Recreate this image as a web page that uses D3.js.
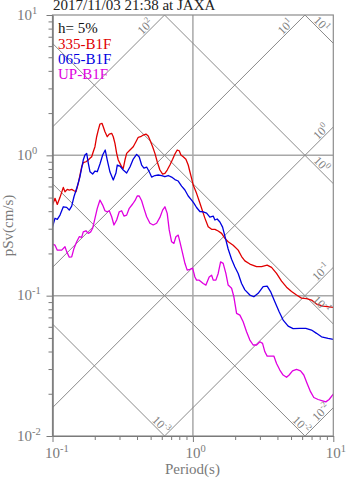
<!DOCTYPE html>
<html>
<head>
<meta charset="utf-8">
<script src="https://cdn.jsdelivr.net/npm/d3@7"></script>
<style>
  html, body { margin: 0; padding: 0; background: #fff; }
  svg { display: block; }
</style>
</head>
<body>
<svg id="chart" width="347" height="478"></svg>
<script>
// ---- data ----
const titleText = "2017/11/03 21:38 at JAXA";
const dampingText = "h= 5%";
const seriesNames = ["335-B1F", "065-B1F", "UP-B1F"];
const seriesColors = ["#e00000", "#0000e0", "#e000e0"];

// pseudo velocity response (cm/s) vs period (s)
const period335 = [0.100,0.1042,0.1082,0.1131,0.1194,0.1227,0.1274,0.1317,0.1370,0.1422,0.1470,0.1526,0.1569,0.1614,0.1656,0.1731,0.1798,0.1849,0.1901,0.1951,0.2006,0.2063,0.2118,0.2178,0.2251,0.2299,0.2364,0.2455,0.2537,0.2639,0.2709,0.2785,0.2864,0.2940,0.3023,0.3108,0.3191,0.3281,0.3374,0.3562,0.3760,0.3929,0.4080,0.4244,0.4429,0.4629,0.4807,0.4943,0.5166,0.5364,0.5570,0.5822,0.6085,0.6319,0.6562,0.6859,0.7171,0.7446,0.7732,0.7989,0.8215,0.8531,0.8917,0.9261,0.9520,0.9788,1.005,1.062,1.121,1.217,1.285,1.359,1.435,1.514,1.601,1.690,1.783,1.936,2.101,2.222,2.345,2.545,2.840,3.083,3.380,3.632,3.942,4.279,4.645,5.041,5.472,5.939,6.446,6.996,7.594,8.462,10.0];
const psv335 = [0.442,0.494,0.447,0.502,0.591,0.550,0.572,0.566,0.572,0.559,0.550,0.632,0.724,0.829,0.886,0.900,0.926,0.952,0.977,1.061,1.152,1.357,1.514,1.672,1.691,1.599,1.473,1.357,1.418,1.435,1.357,1.218,1.033,0.926,0.877,0.829,0.808,0.926,1.033,1.091,1.152,1.250,1.344,1.357,1.395,1.418,1.373,1.285,1.152,1.033,0.900,0.786,0.736,0.744,0.786,0.853,0.937,1.022,1.091,1.078,1.005,0.977,0.937,0.853,0.764,0.686,0.614,0.536,0.457,0.357,0.310,0.297,0.297,0.289,0.278,0.256,0.242,0.229,0.211,0.190,0.177,0.168,0.161,0.161,0.165,0.159,0.144,0.127,0.115,0.107,0.101,0.0961,0.0953,0.0930,0.0871,0.0843,0.0825];

const period065 = [0.100,0.1042,0.1082,0.1131,0.1194,0.1262,0.1317,0.1370,0.1422,0.1487,0.1569,0.1656,0.1703,0.1752,0.1798,0.1849,0.1932,0.2006,0.2084,0.2178,0.2277,0.2375,0.2455,0.2567,0.2709,0.2831,0.2892,0.3023,0.3191,0.3374,0.3562,0.3760,0.3974,0.4147,0.4314,0.4480,0.4683,0.4887,0.5082,0.5364,0.5662,0.5987,0.6319,0.6671,0.7053,0.7446,0.7859,0.8310,0.8772,0.9261,0.9788,1.016,1.062,1.121,1.184,1.252,1.321,1.395,1.435,1.489,1.557,1.627,1.690,1.783,1.886,1.991,2.101,2.222,2.345,2.545,2.718,2.916,3.165,3.380,3.573,3.833,4.114,4.393,4.769,5.175,5.776,6.372,6.996,7.594,8.241,9.184,10.0];
const psv065 = [0.310,0.356,0.350,0.375,0.430,0.426,0.407,0.435,0.507,0.582,0.704,0.926,1.005,1.033,0.881,0.764,0.736,0.773,0.764,0.867,1.005,1.091,0.926,0.760,0.667,0.748,0.853,0.839,0.786,0.748,0.825,0.941,1.016,0.973,0.853,0.812,0.825,0.764,0.700,0.718,0.724,0.718,0.704,0.718,0.700,0.672,0.656,0.604,0.566,0.513,0.480,0.457,0.425,0.398,0.396,0.388,0.363,0.369,0.346,0.352,0.335,0.308,0.266,0.215,0.182,0.160,0.144,0.122,0.110,0.101,0.0982,0.104,0.116,0.117,0.107,0.0905,0.0768,0.0670,0.0607,0.0583,0.0585,0.0585,0.0569,0.0539,0.0509,0.0496,0.0488];

const periodUP = [0.100,0.1042,0.1082,0.1163,0.1227,0.1262,0.1317,0.1370,0.1422,0.1487,0.1551,0.1614,0.1656,0.1731,0.1798,0.1870,0.1932,0.2006,0.2084,0.2178,0.2277,0.2364,0.2455,0.2537,0.2639,0.2740,0.2864,0.2988,0.3108,0.3228,0.3374,0.3521,0.3723,0.3866,0.4013,0.4147,0.4314,0.4480,0.4683,0.4943,0.5216,0.5515,0.5822,0.6085,0.6319,0.6562,0.6781,0.7053,0.7324,0.7568,0.7859,0.8082,0.8447,0.8772,0.9108,0.9520,0.9951,1.033,1.062,1.109,1.184,1.238,1.306,1.359,1.395,1.458,1.514,1.575,1.643,1.717,1.783,1.886,1.958,2.047,2.161,2.280,2.411,2.545,2.687,2.840,2.999,3.134,3.255,3.380,3.573,3.772,3.942,4.161,4.393,4.645,4.847,5.123,5.472,5.843,6.166,6.509,6.881,7.264,7.796,8.378,8.843,9.335,10.0];
const psvUP = [0.233,0.229,0.211,0.211,0.223,0.206,0.188,0.189,0.217,0.242,0.263,0.260,0.285,0.290,0.278,0.285,0.302,0.356,0.419,0.480,0.442,0.403,0.396,0.403,0.365,0.319,0.346,0.396,0.403,0.369,0.375,0.419,0.450,0.475,0.513,0.513,0.475,0.419,0.365,0.328,0.319,0.328,0.361,0.407,0.430,0.386,0.294,0.242,0.236,0.263,0.270,0.242,0.200,0.170,0.152,0.154,0.157,0.136,0.129,0.129,0.122,0.119,0.136,0.140,0.129,0.129,0.144,0.174,0.170,0.144,0.119,0.113,0.0982,0.0748,0.0727,0.0652,0.0553,0.0483,0.0445,0.0445,0.0469,0.0457,0.0398,0.0371,0.0371,0.0371,0.0329,0.0295,0.0272,0.0262,0.0272,0.0291,0.0298,0.0291,0.0272,0.0237,0.0207,0.0188,0.0182,0.0178,0.0175,0.0182,0.0199];

// tripartite guide levels
const accelLevels = [0.01, 0.1, 1, 10, 100];   // pseudo acceleration, cm/s^2
const dispLevels = [0.001, 0.01, 0.1, 1, 10];  // displacement, cm
const xMajorExps = [-1, 0, 1];
const yMajorExps = [-2, -1, 0, 1];

// ---- layout ----
const svg = d3.select("#chart");
const plotL = 52.5, plotR = 333.3, plotT = 15, plotB = 436;
const serif = "'Liberation Serif','DejaVu Serif','Times New Roman',serif";
const axisGray = "#7a7a7a";

const x = d3.scaleLog().domain([0.1, 10]).range([plotL, plotR]);
const y = d3.scaleLog().domain([0.01, 10]).range([plotB, plotT]);
const TWO_PI = 2 * Math.PI;

svg.append("defs").append("clipPath").attr("id", "plotClip")
  .append("rect").attr("x", plotL).attr("y", plotT)
  .attr("width", plotR - plotL).attr("height", plotB - plotT);

const plot = svg.append("g").attr("clip-path", "url(#plotClip)");

// grid lines at the major decades
plot.selectAll("line.vgrid").data([1]).enter().append("line")
  .attr("x1", d => x(d)).attr("x2", d => x(d)).attr("y1", plotT).attr("y2", plotB)
  .attr("stroke", "#a8a8a8").attr("stroke-width", 1.5);
plot.selectAll("line.hgrid").data([0.1, 1]).enter().append("line")
  .attr("x1", plotL).attr("x2", plotR).attr("y1", d => y(d)).attr("y2", d => y(d))
  .attr("stroke", "#a8a8a8").attr("stroke-width", 1.5);

// diagonal guides
const guideLine = d3.line().x(d => x(d[0])).y(d => y(d[1]));
const accelPts = a => [[0.1, a * 0.1 / TWO_PI], [10, a * 10 / TWO_PI]];
const dispPts = s => [[0.1, TWO_PI * s / 0.1], [10, TWO_PI * s / 10]];
plot.selectAll("path.acc").data(accelLevels).enter().append("path")
  .attr("d", a => guideLine(accelPts(a)))
  .attr("fill", "none").attr("stroke", "#8a8a8a").attr("stroke-width", 1);
plot.selectAll("path.disp").data(dispLevels).enter().append("path")
  .attr("d", s => guideLine(dispPts(s)))
  .attr("fill", "none").attr("stroke", "#8a8a8a").attr("stroke-width", 1);

// guide labels, placed near where each line leaves the frame
const guideLabels = [];
accelLevels.forEach(a => {
  const tTop = TWO_PI * 10 / a;
  let px, py, along;
  if (tTop <= 10) { px = x(tTop); py = plotT; along = 22; }
  else { px = plotR; py = y(a * 10 / TWO_PI); along = 12; }
  const k = Math.SQRT1_2, perp = 5.5;
  guideLabels.push({ level: a, rot: -45,
    cx: px - along * k - perp * k, cy: py + along * k - perp * k });
});
dispLevels.forEach(s => {
  const vRight = TWO_PI * s / 10;
  let px, py, along;
  if (vRight >= 0.01) { px = plotR; py = y(vRight); along = 22; }
  else { px = x(TWO_PI * s / 0.01); py = plotB; along = 10.5; }
  const k = Math.SQRT1_2, perp = 5.5;
  guideLabels.push({ level: s, rot: 45,
    cx: px - along * k + perp * k, cy: py - along * k - perp * k });
});

const gl = svg.append("g").selectAll("text").data(guideLabels).enter().append("text")
  .attr("transform", d => `translate(${d.cx},${d.cy}) rotate(${d.rot})`)
  .attr("text-anchor", "middle")
  .attr("font-family", serif).attr("font-size", 12).attr("fill", "#808080");
gl.append("tspan").attr("y", 4).text("10");
gl.append("tspan").attr("dy", -5).attr("font-size", 8.5)
  .text(d => String(Math.round(Math.log10(d.level))));

// response spectra
const spectra = [
  { name: seriesNames[0], color: seriesColors[0], T: period335, v: psv335 },
  { name: seriesNames[1], color: seriesColors[1], T: period065, v: psv065 },
  { name: seriesNames[2], color: seriesColors[2], T: periodUP, v: psvUP }
];
const specLine = d3.line().x(d => x(d[0])).y(d => y(d[1]));
plot.selectAll("path.spec").data(spectra).enter().append("path")
  .attr("d", s => specLine(s.T.map((t, i) => [t, s.v[i]])))
  .attr("fill", "none").attr("stroke", s => s.color)
  .attr("stroke-width", 1.3).attr("stroke-linejoin", "round");

// frame
svg.append("rect").attr("x", plotL).attr("y", plotT)
  .attr("width", plotR - plotL).attr("height", plotB - plotT)
  .attr("fill", "none").attr("stroke", "#8c8c8c").attr("stroke-width", 1.2);

// axes: long ticks at decades, short ticks between
const isMajor = v => Math.abs(Math.log10(v) - Math.round(Math.log10(v))) < 1e-9;
const yAll = y.ticks();
const xAll = x.ticks();
function styleAxis(g) {
  g.selectAll("path").attr("stroke", axisGray);
  g.selectAll("line").attr("stroke", axisGray);
}
svg.append("g").attr("transform", `translate(${plotL},0)`)
  .call(d3.axisLeft(y).tickValues(yAll.filter(v => !isMajor(v))).tickSize(4).tickSizeOuter(0).tickFormat(""))
  .call(styleAxis);
svg.append("g").attr("transform", `translate(${plotL},0)`)
  .call(d3.axisLeft(y).tickValues(yAll.filter(isMajor)).tickSize(6).tickSizeOuter(0).tickFormat(""))
  .call(styleAxis);
svg.append("g").attr("transform", `translate(0,${plotB})`)
  .call(d3.axisBottom(x).tickValues(xAll.filter(v => !isMajor(v))).tickSize(4).tickSizeOuter(0).tickFormat(""))
  .call(styleAxis);
svg.append("g").attr("transform", `translate(0,${plotB})`)
  .call(d3.axisBottom(x).tickValues(xAll.filter(isMajor)).tickSize(6).tickSizeOuter(0).tickFormat(""))
  .call(styleAxis);

// tick labels with superscript exponents
const yl = svg.append("g").selectAll("text").data(yMajorExps).enter().append("text")
  .attr("x", 17).attr("y", e => y(Math.pow(10, e)) + 4.5)
  .attr("font-family", serif).attr("font-size", 15).attr("fill", axisGray);
yl.append("tspan").text("10");
yl.append("tspan").attr("dy", -6).attr("font-size", 10.5).text(e => String(e));

const xl = svg.append("g").selectAll("text").data(xMajorExps).enter().append("text")
  .attr("x", e => x(Math.pow(10, e)) - 7.5).attr("y", 458)
  .attr("font-family", serif).attr("font-size", 15).attr("fill", axisGray);
xl.append("tspan").text("10");
xl.append("tspan").attr("dy", -6).attr("font-size", 10.5).text(e => String(e));

// axis titles
svg.append("text").attr("x", (x(0.1) + x(10)) / 2 - 0.5).attr("y", 474)
  .attr("text-anchor", "middle").attr("font-family", serif).attr("font-size", 15)
  .attr("fill", axisGray).text("Period(s)");
svg.append("text").attr("transform", `translate(13,${(plotT + plotB) / 2}) rotate(-90)`)
  .attr("text-anchor", "middle").attr("font-family", serif).attr("font-size", 15)
  .attr("fill", axisGray).text("pSv(cm/s)");

// title
svg.append("text").attr("x", 53).attr("y", 9.5)
  .attr("font-family", serif).attr("font-size", 15).attr("fill", "#222")
  .text(titleText);

// legend
const legend = svg.append("g").attr("font-family", serif).attr("font-size", 15);
legend.append("text").attr("x", 58).attr("y", 33).attr("fill", "#111").text(dampingText);
legend.selectAll("text.series").data(spectra).enter().append("text")
  .attr("x", 58).attr("y", (d, i) => 48.5 + i * 15)
  .attr("fill", d => d.color).text(d => d.name);
</script>
</body>
</html>
